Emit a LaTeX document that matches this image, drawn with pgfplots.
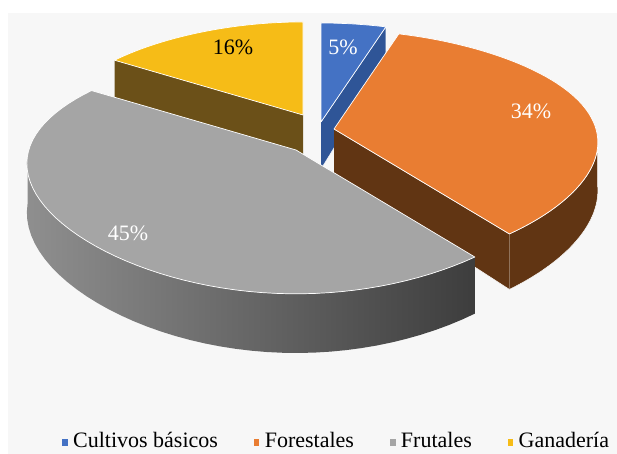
\documentclass[border=0pt]{standalone}
\usepackage{pgfplots}
\pgfplotsset{compat=1.18}
\usepackage{fontspec}
\setmainfont{Liberation Serif}

\definecolor{bgc}{HTML}{F7F7F7}
\definecolor{cbl}{HTML}{4472C4}
\definecolor{cbls}{HTML}{2F5597}
\definecolor{cor}{HTML}{E97D32}
\definecolor{cors}{HTML}{613513}
\definecolor{cgr}{HTML}{A5A5A5}
\definecolor{cye}{HTML}{F6BC17}
\definecolor{cyes}{HTML}{6B5018}

% data (percent)
\def\pB{5}\def\pO{34}\def\pG{45}\def\pY{16}
\pgfmathsetmacro{\aA}{90}
\pgfmathsetmacro{\aB}{90-3.6*\pB}
\pgfmathsetmacro{\aC}{\aB-3.6*\pO}
\pgfmathsetmacro{\aD}{\aC-3.6*\pG}
\pgfmathsetmacro{\aE}{\aD-3.6*\pY}

\pgfplotsset{
 /pgf/declare function={
   RX(\s)=262-34*\s-22*\s*\s;
   RY(\s)=120-21*\s;
   DP(\s)=47-11*\s;
   ex(\cx,\m,\r,\a)=\cx+\r*\m*cos(\a)*RX(sin(\a));
   ey(\cy,\m,\r,\a,\z)=\cy-\r*\m*sin(\a)*RY(sin(\a))+\z*\m*DP(\r*sin(\a));
   rr(\t)=ifthenelse(\t<0.008,0,ifthenelse(\t>0.992,0,1));
   ang(\t,\a,\b)=\a+(\b-\a)*min(max((\t-1/61)*61/59,0),1);
   sang(\t,\c,\d)=ifthenelse(\t<39.5,\c+(\d-\c)*\t/39,\d-(\d-\c)*(\t-40)/39);
   sz(\t)=ifthenelse(\t<39.5,0,1);
   rf(\t)=ifthenelse(\t>0.5,ifthenelse(\t<2.5,1,0),0);
   zf(\t)=ifthenelse(\t>1.5,1,0);
 }
}

% #1 style, #2 cx, #3 cy, #4 scale, #5 a, #6 b
\newcommand\topface[6]{%
\addplot[forget plot,#1,domain=0:1,samples=62,variable=\t]
 ({ex(#2,#4,rr(\t),ang(\t,#5,#6))},{ey(#3,#4,rr(\t),ang(\t,#5,#6),0)});}
\newcommand\curvside[6]{%
\addplot[forget plot,#1,domain=0:79,samples=80,variable=\t]
 ({ex(#2,#4,1,sang(\t,#5,#6))},{ey(#3,#4,1,sang(\t,#5,#6),sz(\t))});}
% #5 angle of edge
\newcommand\radside[5]{%
\addplot[forget plot,#1,domain=0:3,samples=4,variable=\t]
 ({ex(#2,#4,rf(\t),#5)},{ey(#3,#4,rf(\t),#5,zf(\t))});}

\begin{document}
\begin{tikzpicture}
\begin{axis}[
  width=617pt, height=454pt, scale only axis,
  xmin=0, xmax=617, ymin=0, ymax=454, y dir=reverse,
  enlargelimits=false, axis lines=none, clip=false,
  legend columns=4,
  legend style={draw=none, fill=none, at={(axis cs:62,441)}, anchor=west,
    inner sep=0pt, font=\fontsize{22}{24}\selectfont,
    /tikz/every odd column/.append style={column sep=4pt},
    /tikz/every even column/.append style={column sep=34pt}},
]
\path[draw=none] (axis cs:0,0) rectangle (axis cs:617,454);
\fill[bgc] (axis cs:8,13) rectangle (axis cs:617,454);

% Yellow (back)
\radside{fill=cyes,draw=none}{303}{115}{0.94}{\aD+360}
\topface{fill=cye,draw=white,line width=0.7pt,line join=round}{303}{115}{0.94}{\aA}{\aD+360}
% Blue
\radside{fill=cbls,draw=none}{321}{122}{1}{\aA}
\radside{fill=cbls,draw=white,line width=0.4pt}{321}{122}{1}{\aB}
\topface{fill=cbl,draw=white,line width=0.7pt,line join=round}{321}{122}{1}{\aB}{\aA}
% Orange
\radside{fill=cors,draw=white,line width=0.5pt,line join=round}{334}{129}{1}{\aC}
\curvside{fill=cors,draw=white,line width=0.5pt,line join=round}{334}{129}{1}{\aC}{-4}
\topface{fill=cor,draw=white,line width=0.7pt,line join=round}{334}{129}{1}{\aC}{\aB}
% Gray (front)
\curvside{left color=black!44,right color=black!76,draw=none}{296}{150}{1.02}{\aD+360+35}{\aC+360}
\topface{fill=cgr,draw=white,line width=0.7pt,line join=round}{296}{150}{1.02}{\aD}{\aC}

\node[font=\fontsize{22}{24}\selectfont,text=black] at (axis cs:233,47) {16\%};
\node[font=\fontsize{22}{24}\selectfont,text=white] at (axis cs:343,47) {5\%};
\node[font=\fontsize{22}{24}\selectfont,text=white] at (axis cs:531,111) {34\%};
\node[font=\fontsize{22}{24}\selectfont,text=white] at (axis cs:128,233) {45\%};

\addlegendimage{legend image code/.code={\fill[cbl] (0pt,-4pt) rectangle (4.5pt,2pt);}}
\addlegendentry{Cultivos básicos}
\addlegendimage{legend image code/.code={\fill[cor] (0pt,-4pt) rectangle (4.5pt,2pt);}}
\addlegendentry{Forestales}
\addlegendimage{legend image code/.code={\fill[cgr] (0pt,-4pt) rectangle (4.5pt,2pt);}}
\addlegendentry{Frutales}
\addlegendimage{legend image code/.code={\fill[cye] (0pt,-4pt) rectangle (4.5pt,2pt);}}
\addlegendentry{Ganadería}
\end{axis}
\end{tikzpicture}
\end{document}
